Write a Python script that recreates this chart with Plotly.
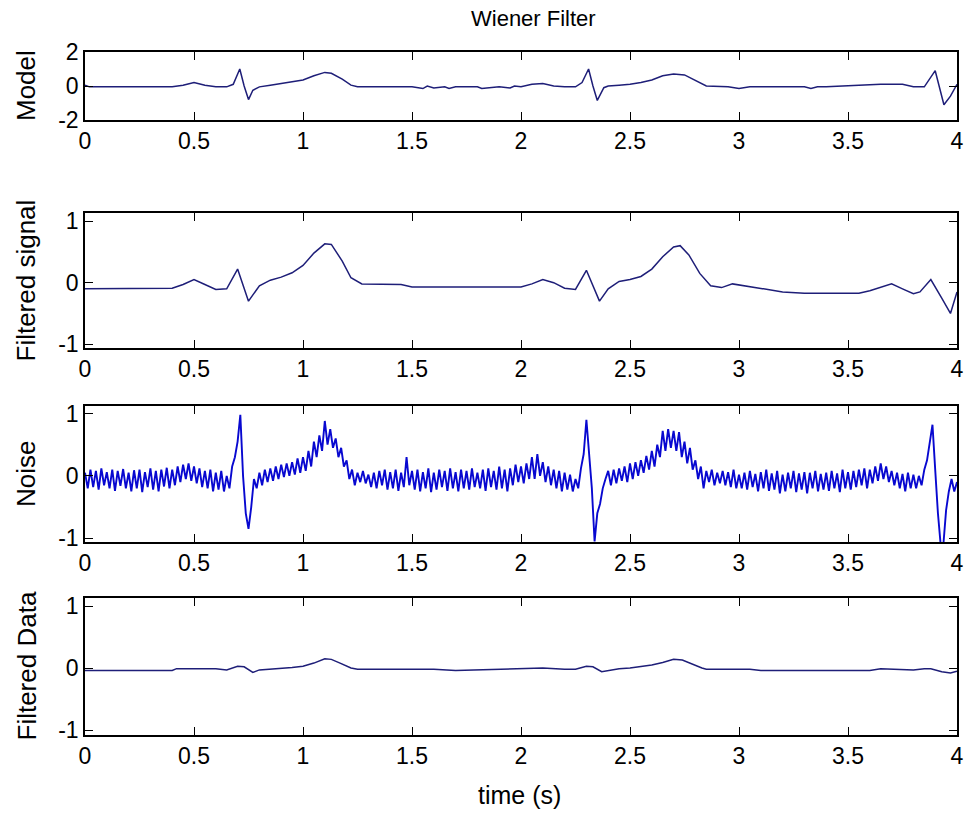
import numpy as np
import plotly.graph_objects as go

# ---- data ---------------------------------------------------------------
# Model ECG waveform (knots in seconds / amplitude)
model_t = [0, 0.02, 0.4, 0.45, 0.5, 0.55, 0.6, 0.65, 0.68, 0.71, 0.73, 0.75, 0.77,
           0.8, 0.85, 0.9, 0.95, 1.0, 1.05, 1.1, 1.13, 1.18, 1.22, 1.25, 1.5, 1.55,
           1.57, 1.6, 1.65, 1.67, 1.7, 1.8, 1.82, 1.9, 1.95, 1.97, 2.0, 2.05, 2.1,
           2.15, 2.2, 2.25, 2.28, 2.31, 2.33, 2.35, 2.38, 2.4, 2.45, 2.5, 2.55, 2.6,
           2.65, 2.7, 2.75, 2.8, 2.85, 2.95, 3.0, 3.05, 3.3, 3.33, 3.36, 3.4, 3.6,
           3.65, 3.75, 3.8, 3.85, 3.88, 3.9, 3.94, 3.97, 4.0]
model_y = [0.05, -0.05, -0.05, 0.05, 0.2, 0.05, -0.05, -0.05, 0.1, 1.0, 0.0, -0.8, -0.25,
           -0.05, 0.05, 0.15, 0.25, 0.35, 0.6, 0.8, 0.75, 0.4, 0.05, -0.05, -0.05, -0.15,
           0.0, -0.12, -0.05, -0.15, -0.05, -0.05, -0.15, -0.05, -0.12, 0.0, -0.05, 0.1, 0.15,
           0.0, -0.05, -0.05, 0.2, 1.0, 0.0, -0.85, -0.1, 0.0, 0.05, 0.1, 0.2, 0.35,
           0.6, 0.7, 0.65, 0.3, 0.0, -0.05, -0.15, -0.05, -0.05, -0.15, -0.05, -0.05, 0.05,
           0.1, 0.1, -0.05, -0.05, 0.5, 0.9, -1.1, -0.6, 0.1]

# Wiener-filtered signal
fsig_t = [0, 0.4, 0.45, 0.5, 0.55, 0.6, 0.65, 0.7, 0.75, 0.8, 0.85, 0.9, 0.95, 1.0,
          1.05, 1.1, 1.13, 1.18, 1.22, 1.27, 1.45, 1.5, 2.0, 2.05, 2.1, 2.15, 2.2,
          2.25, 2.3, 2.36, 2.4, 2.45, 2.5, 2.55, 2.6, 2.65, 2.7, 2.73, 2.77, 2.82,
          2.87, 2.92, 2.97, 3.02, 3.1, 3.2, 3.3, 3.55, 3.6, 3.65, 3.7, 3.75, 3.8,
          3.83, 3.88, 3.93, 3.97, 4.0]
fsig_y = [-0.1, -0.09, -0.03, 0.05, -0.03, -0.11, -0.1, 0.22, -0.3, -0.05, 0.04, 0.09, 0.16, 0.28,
          0.48, 0.63, 0.62, 0.35, 0.08, -0.02, -0.03, -0.07, -0.07, -0.02, 0.05, 0.0, -0.09,
          -0.11, 0.2, -0.3, -0.1, 0.02, 0.05, 0.1, 0.22, 0.42, 0.58, 0.6, 0.45, 0.15,
          -0.05, -0.08, -0.02, -0.05, -0.1, -0.15, -0.17, -0.17, -0.13, -0.08, -0.02, -0.1, -0.18,
          -0.15, 0.05, -0.25, -0.5, -0.15]

# Noisy observation, sampled every 12.5 ms over 0..4 s
noise_y = [
    0.05, -0.2, 0.1, -0.18, 0.08, -0.22, 0.12, -0.15, 0.06, -0.2, 0.1, -0.24, 0.08, -0.16, 0.11, -0.2,
    0.05, -0.25, 0.09, -0.2, 0.1, -0.26, 0.06, -0.18, 0.12, -0.22, 0.08, -0.25, 0.1, -0.17, 0.13, -0.2,
    0.1, -0.15, 0.15, -0.1, 0.18, -0.05, 0.2, -0.08, 0.15, -0.12, 0.12, -0.18, 0.08, -0.2, 0.1, -0.25,
    0.05, -0.22, 0.08, -0.25, 0.0, -0.2, 0.15, 0.3, 0.55, 0.98, 0.0, -0.6, -0.85, -0.5, -0.05, -0.2,
    0.05, -0.15, 0.1, -0.1, 0.12, -0.08, 0.15, -0.05, 0.18, -0.02, 0.2, 0.0, 0.22, 0.02, 0.28, 0.05,
    0.3, 0.08, 0.4, 0.15, 0.55, 0.3, 0.65, 0.4, 0.88, 0.5, 0.75, 0.45, 0.6, 0.3, 0.45, 0.15,
    0.25, -0.05, 0.1, -0.15, 0.05, -0.1, 0.08, -0.12, 0.02, -0.18, 0.05, -0.2, 0.08, -0.15, 0.1, -0.22,
    0.06, -0.2, 0.1, -0.24, 0.05, -0.18, 0.3, -0.15, 0.08, -0.22, 0.1, -0.25, 0.06, -0.2, 0.12, -0.26,
    0.05, -0.22, 0.1, -0.18, 0.08, -0.24, 0.12, -0.2, 0.06, -0.25, 0.1, -0.2, 0.08, -0.22, 0.12, -0.18,
    0.05, -0.2, 0.1, -0.24, 0.12, -0.18, 0.08, -0.22, 0.15, -0.2, 0.1, -0.25, 0.12, -0.15, 0.18, -0.1,
    0.15, -0.12, 0.2, -0.05, 0.3, -0.05, 0.35, 0.0, 0.22, -0.1, 0.15, -0.15, 0.1, -0.2, 0.08, -0.25,
    0.05, -0.22, 0.02, -0.25, -0.05, -0.2, 0.12, 0.35, 0.9, 0.4, -0.2, -1.05, -0.6, -0.45, -0.2, -0.05,
    0.08, -0.15, 0.1, -0.12, 0.12, -0.08, 0.15, -0.1, 0.2, -0.05, 0.22, 0.0, 0.25, 0.05, 0.32, 0.1,
    0.4, 0.15, 0.5, 0.3, 0.72, 0.4, 0.75, 0.45, 0.72, 0.4, 0.7, 0.3, 0.55, 0.2, 0.45, 0.1,
    0.25, -0.05, 0.15, -0.2, 0.08, -0.1, 0.1, -0.15, 0.05, -0.12, 0.08, -0.15, 0.06, -0.18, 0.1, -0.2,
    0.02, -0.2, 0.05, -0.22, 0.08, -0.18, 0.03, -0.25, 0.06, -0.2, 0.1, -0.24, 0.04, -0.22, 0.08, -0.28,
    0.02, -0.25, 0.05, -0.2, 0.08, -0.26, 0.04, -0.22, 0.06, -0.28, 0.05, -0.2, 0.08, -0.25, 0.03, -0.22,
    0.05, -0.24, 0.08, -0.2, 0.04, -0.26, 0.1, -0.2, 0.06, -0.22, 0.08, -0.18, 0.1, -0.15, 0.12, -0.2,
    0.1, -0.12, 0.15, -0.08, 0.2, -0.05, 0.15, -0.1, 0.08, -0.15, 0.05, -0.2, 0.03, -0.25, 0.05, -0.2,
    0.02, -0.2, 0.0, -0.15, 0.1, 0.25, 0.55, 0.82, 0.1, -0.6, -1.1, -1.1, -0.55, -0.25, -0.05, -0.25,
    -0.1,
]
noise_t = np.linspace(0, 4, len(noise_y))

# Filtered noisy data
fdat_t = [0, 0.4, 0.42, 0.6, 0.65, 0.7, 0.73, 0.77, 0.8, 0.85, 0.9, 0.95, 1.0, 1.05,
          1.1, 1.13, 1.17, 1.22, 1.25, 1.6, 1.7, 1.8, 2.0, 2.1, 2.2, 2.25, 2.3, 2.33,
          2.37, 2.4, 2.45, 2.5, 2.55, 2.6, 2.65, 2.7, 2.74, 2.78, 2.83, 2.85, 3.05,
          3.1, 3.6, 3.65, 3.75, 3.8, 3.85, 3.88, 3.93, 3.97, 4.0]
fdat_y = [-0.04, -0.04, -0.01, -0.01, -0.03, 0.03, 0.02, -0.07, -0.03, -0.02, 0.0, 0.01, 0.03, 0.08,
          0.15, 0.14, 0.08, 0.0, -0.02, -0.02, -0.04, -0.03, -0.02, 0.0, -0.02, -0.02, 0.03, 0.02,
          -0.06, -0.04, -0.01, 0.0, 0.02, 0.05, 0.09, 0.14, 0.13, 0.07, 0.0, -0.02, -0.02,
          -0.04, -0.04, -0.01, -0.02, -0.03, -0.01, -0.01, -0.06, -0.08, -0.05]

x_ticks = [0, 0.5, 1, 1.5, 2, 2.5, 3, 3.5, 4]
x_labels = ["0", "0.5", "1", "1.5", "2", "2.5", "3", "3.5", "4"]

panels = [
    ("Model", model_t, model_y, [-2, 2], [-2, 0, 2], "#1e1e78", 1.5),
    ("Filtered signal", fsig_t, fsig_y, [-1.06, 1.13], [-1, 0, 1], "#1e1e78", 1.5),
    ("Noise", noise_t, noise_y, [-1.06, 1.12], [-1, 0, 1], "#0808d0", 1.9),
    ("Filtered Data", fdat_t, fdat_y, [-1.08, 1.13], [-1, 0, 1], "#1e1e78", 1.5),
]

# ---- layout geometry (pixels in a 965 x 814 page) ------------------------
W, H = 965, 814
x_left, x_right = 85, 957
panel_px = [(52, 120), (213, 348), (406, 542), (598, 735)]

tick_font = dict(family="Liberation Sans, Arial", size=23, color="black")
label_font = dict(family="Liberation Sans, Arial", size=26, color="black")

fig = go.Figure()
annotations = []

for i, (name, tx, ty, yr, yt, col, lw) in enumerate(panels):
    n = "" if i == 0 else str(i + 1)
    top, bot = panel_px[i]
    fig.add_trace(go.Scatter(x=tx, y=ty, mode="lines",
                             line=dict(color=col, width=lw),
                             xaxis="x" + n, yaxis="y" + n, showlegend=False))
    axis_common = dict(showline=True, linecolor="black", linewidth=1.5, mirror="ticks",
                       ticks="inside", ticklen=8, tickwidth=1.3, tickcolor="black",
                       showgrid=False, zeroline=False, tickfont=tick_font,
                       automargin=False)
    fig.layout["xaxis" + n] = dict(domain=[x_left / W, x_right / W], range=[0, 4],
                                   anchor="y" + n, tickvals=x_ticks, ticktext=x_labels,
                                   **axis_common)
    fig.layout["yaxis" + n] = dict(domain=[1 - bot / H, 1 - top / H], range=yr,
                                   anchor="x" + n, tickvals=yt,
                                   ticktext=[str(v) for v in yt], **axis_common)
    annotations.append(dict(text=name, textangle=-90, x=26 / W, y=1 - (top + bot) / 2 / H,
                            xref="paper", yref="paper", xanchor="center", yanchor="middle",
                            showarrow=False, font=label_font))

annotations.append(dict(text="Wiener Filter", x=533 / W, y=1 - 18 / H, xref="paper",
                        yref="paper", xanchor="center", yanchor="middle", showarrow=False,
                        font=dict(family="Liberation Sans, Arial", size=22, color="black")))
annotations.append(dict(text="time (s)", x=519 / W, y=1 - 795 / H, xref="paper",
                        yref="paper", xanchor="center", yanchor="middle", showarrow=False,
                        font=dict(family="Liberation Sans, Arial", size=25, color="black")))

fig.update_layout(width=W, height=H, margin=dict(l=0, r=0, t=0, b=0, autoexpand=False),
                  paper_bgcolor="white", plot_bgcolor="white",
                  annotations=annotations)

fig.write_html("out.html")
